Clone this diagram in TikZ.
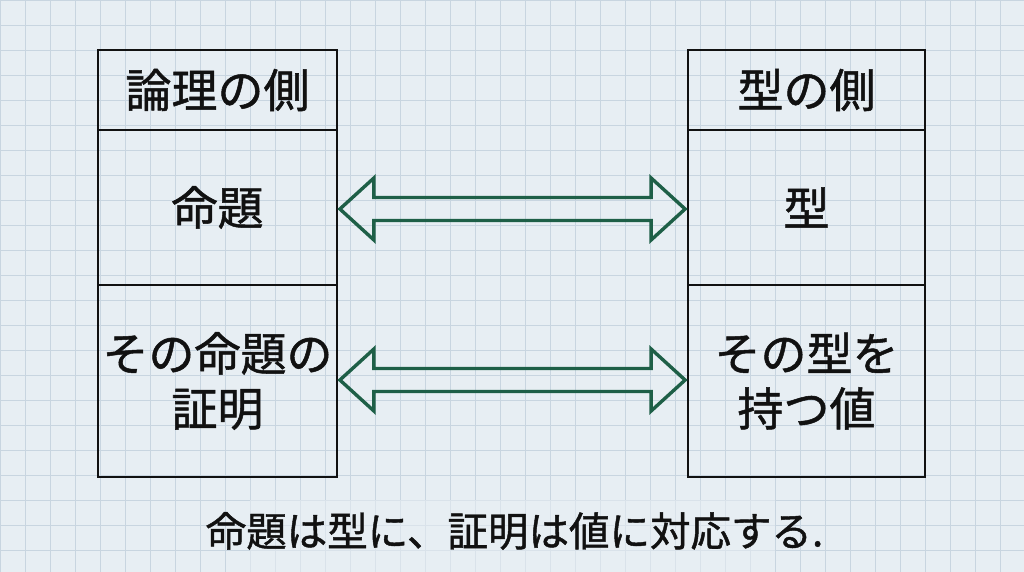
\documentclass[tikz,border=0pt]{standalone}
\usepackage{fontspec}
\newfontfamily\jpfont[FakeBold=1.1]{Noto Sans CJK JP}
\usetikzlibrary{calc}
\definecolor{bgc}{HTML}{E7EEF3}
\definecolor{gridc}{HTML}{C8D5E0}
\definecolor{arrowc}{HTML}{1E5F47}
\definecolor{inkc}{HTML}{111111}
\tikzset{
  cellbox/.style={draw=inkc, line width=1.8pt, inner sep=0pt, text=inkc,
    font=\jpfont\fontsize{46}{55}\selectfont, align=center},
  dblarrow/.style={draw=arrowc, line width=3.4pt, line join=miter},
  gridline/.style={draw=gridc, line width=0.9pt}
}
\begin{document}
\begin{tikzpicture}[x=1pt,y=-1pt]
\useasboundingbox (0,0) rectangle (1024,572);
\fill[bgc] (0,0) rectangle (1024,572);
\draw[gridline] (0,0) grid[step=25pt] (1024,572);
\fill[bgc, opacity=0.55] (250,500) rectangle (775,572);
% left column
\node[cellbox, minimum width=239pt, minimum height=80pt] (lh) at (217.5,90) {論理の側};
\node[cellbox, minimum width=239pt, minimum height=155pt] (lp) at (217.5,207.5) {命題};
\node[cellbox, minimum width=239pt, minimum height=192pt] (lq) at (217.5,381) {その命題の\\証明};
% right column
\node[cellbox, minimum width=237pt, minimum height=80pt] (rh) at (806.5,90) {型の側};
\node[cellbox, minimum width=237pt, minimum height=155pt] (rp) at (806.5,207.5) {型};
\node[cellbox, minimum width=237pt, minimum height=192pt] (rq) at (806.5,381) {その型を\\持つ値};
% double arrows
\draw[dblarrow] let \p1=($(lp.east)+(2,1.5)$), \p2=($(rp.west)+(-2,1.5)$) in
  (\x1,\y1) -- (\x1+34pt,\y1+31pt) -- (\x1+34pt,\y1+11.5pt) -- (\x2-34pt,\y1+11.5pt)
  -- (\x2-34pt,\y1+31pt) -- (\x2,\y1) -- (\x2-34pt,\y1-31pt) -- (\x2-34pt,\y1-11.5pt)
  -- (\x1+34pt,\y1-11.5pt) -- (\x1+34pt,\y1-31pt) -- cycle;
\draw[dblarrow] let \p1=($(lq.east)+(2,-1)$), \p2=($(rq.west)+(-2,-1)$) in
  (\x1,\y1) -- (\x1+34pt,\y1+31pt) -- (\x1+34pt,\y1+11.5pt) -- (\x2-34pt,\y1+11.5pt)
  -- (\x2-34pt,\y1+31pt) -- (\x2,\y1) -- (\x2-34pt,\y1-31pt) -- (\x2-34pt,\y1-11.5pt)
  -- (\x1+34pt,\y1-11.5pt) -- (\x1+34pt,\y1-31pt) -- cycle;
% caption
\node[text=inkc, font=\jpfont\fontsize{40.5}{46}\selectfont] (cap) at (514.5,531) {命題は型に、証明は値に対応する.};
\end{tikzpicture}
\end{document}
